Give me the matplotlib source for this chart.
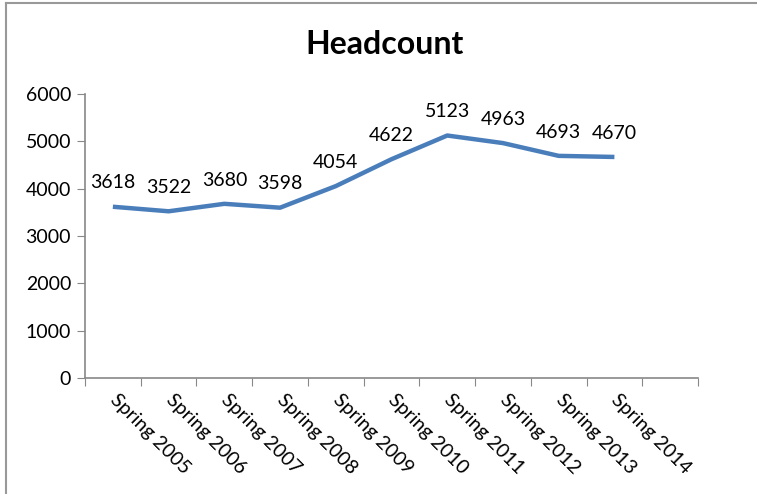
import matplotlib
matplotlib.use("Agg")
import matplotlib.pyplot as plt
from matplotlib.lines import Line2D

years = ["Spring 2005", "Spring 2006", "Spring 2007", "Spring 2008", "Spring 2009",
         "Spring 2010", "Spring 2011", "Spring 2012", "Spring 2013", "Spring 2014"]
headcount = [3618, 3522, 3680, 3598, 4054, 4622, 5123, 4963, 4693, 4670]
n_slots = 11  # Excel axis leaves one empty category at the end

plt.rcParams['font.family'] = ['Lato', 'DejaVu Sans']

fig = plt.figure(figsize=(7.57, 4.94), dpi=100)
ax = fig.add_axes([85 / 757, 1 - 378 / 494, 613 / 757, 284 / 494])

x = [i + 0.5 for i in range(len(headcount))]
ax.plot(x, headcount, color="#4a7ebb", linewidth=3.2, solid_capstyle="butt")
for xi, v in zip(x, headcount):
    ax.annotate(str(v), (xi, v), xytext=(0, 11), textcoords="offset points",
                ha="center", va="bottom", fontsize=14)

ax.set_xlim(0, n_slots)
ax.set_ylim(0, 6000)
ax.set_yticks(range(0, 6001, 1000))
ax.set_xticks(range(n_slots + 1))
ax.set_xticklabels([])
ax.set_xticks(x, minor=True)
ax.set_xticklabels(years, minor=True, rotation=-45, ha="left", va="center",
                   rotation_mode="anchor", fontsize=14)
ax.tick_params(axis="x", which="minor", length=0, pad=14)
ax.tick_params(axis="x", which="major", length=6, color="#888888", direction="out")
ax.tick_params(axis="y", length=6, color="#888888", labelsize=14, pad=4)

for side in ["top", "right"]:
    ax.spines[side].set_visible(False)
for side in ["left", "bottom"]:
    ax.spines[side].set_color("#888888")
    ax.spines[side].set_linewidth(1.2)

fig.text(385 / 757, 1 - 44 / 494, "Headcount", ha="center", va="center",
         fontsize=23, fontweight="bold")

# chart area border (top and left edges visible)
fig.add_artist(Line2D([6 / 757, 1], [1 - 3 / 494, 1 - 3 / 494], color="#999999", lw=1.5))
fig.add_artist(Line2D([6 / 757, 6 / 757], [0, 1 - 3 / 494], color="#999999", lw=1.5))

fig.savefig("out.png", dpi=100)
